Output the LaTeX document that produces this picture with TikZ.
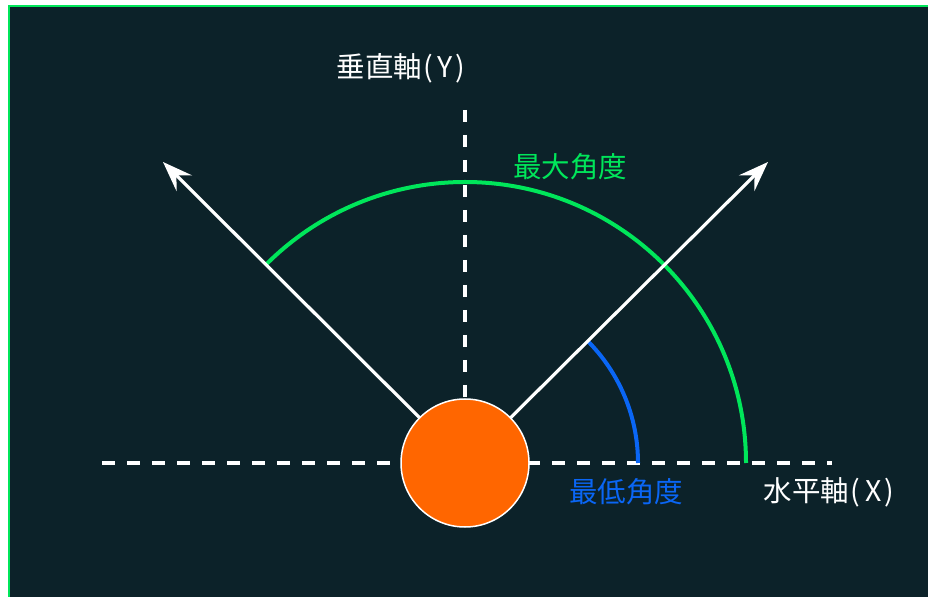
\documentclass[tikz,border=0pt]{standalone}
\usepackage{fontspec}
\newfontfamily\cjk{Noto Sans CJK JP}
\usetikzlibrary{arrows.meta,calc}
\definecolor{bgdark}{HTML}{0C2229}
\definecolor{framegreen}{HTML}{00E65A}
\definecolor{arcgreen}{HTML}{00E65A}
\definecolor{arcblue}{HTML}{0A66F5}
\definecolor{sunorange}{HTML}{FF6600}
\begin{document}
\begin{tikzpicture}[x=1pt,y=1pt,
  axisline/.style={draw=white,line width=4pt,dash pattern=on 12.5pt off 12.5pt},
  armline/.style={draw=white,line width=3.2pt,-{Stealth[length=30pt,width=22pt,inset=11pt]}},
  anglearc/.style={line width=4pt},
  lbl/.style={font=\cjk\fontsize{28.5}{32}\selectfont,inner sep=0pt}]
\useasboundingbox (0,0) rectangle (928,597);
\fill[white] (0,0) rectangle (928,597);
\fill[framegreen] (8,0) rectangle (928,592);
\fill[bgdark] (10,0) rectangle (928,590);
\coordinate (c) at (465,134);
\coordinate (hl) at (102,134);
\coordinate (hr) at (832,134);
\coordinate (vt) at (465,487);
\coordinate (ltip) at (163,435);
\coordinate (rtip) at (768,435);
% axes
\draw[axisline] (hl) -- (hr);
\draw[axisline] (vt) -- (c);
% arcs
\draw[anglearc,arcgreen] ($(c)+(281,0)$) arc[start angle=0,end angle=135,radius=281];
\draw[anglearc,arcblue] ($(c)+(173,0)$) arc[start angle=0,end angle=45,radius=173];
% arms
\draw[armline] (c) -- (ltip);
\draw[armline] (c) -- (rtip);
% sun
\node[circle,fill=sunorange,draw=white,line width=1.5pt,minimum size=128pt,inner sep=0pt] (sun) at (c) {};
% labels
\node[lbl,text=white] (ylab) at (401,529) {垂直軸\kern1pt(\kern5pt Y\kern3pt)};
\node[lbl,text=arcgreen] (maxlab) at (570,430) {最大角度};
\node[lbl,text=arcblue] (minlab) at (626,105) {最低角度};
\node[lbl,text=white] (xlab) at (829,105) {水平軸\kern1pt(\kern5pt X\kern3pt)};
\end{tikzpicture}
\end{document}
